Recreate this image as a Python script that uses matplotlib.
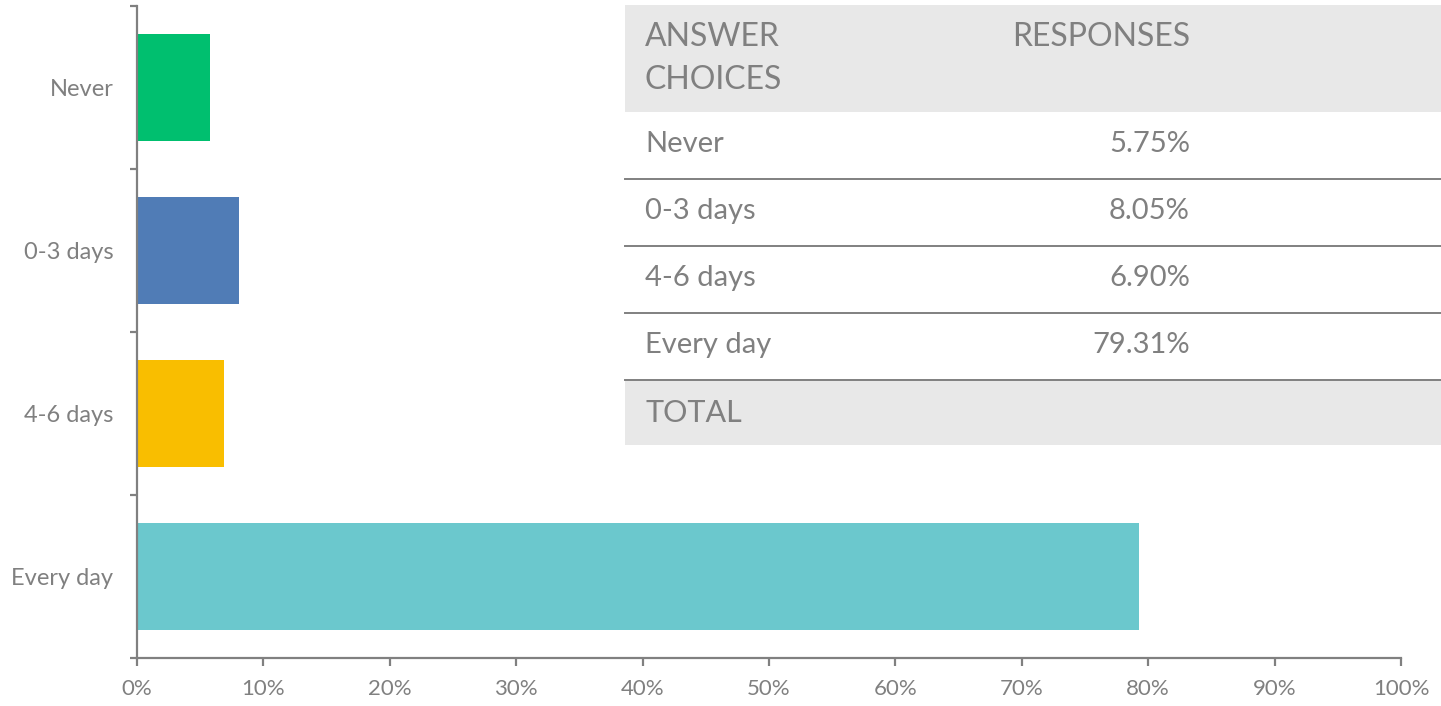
import matplotlib.pyplot as plt
from matplotlib.patches import Rectangle
from matplotlib.lines import Line2D
import numpy as np

# survey answers
categories = ["Never", "0-3 days", "4-6 days", "Every day"]
values = [5.75, 8.05, 6.90, 79.31]
bar_colors = ["#00BF6F", "#507CB6", "#F9BE00", "#6BC8CD"]
xticks = list(range(0, 101, 10))
xtick_labels = [f"{t}%" for t in xticks]

W, H = 1441, 706
grey = "#808080"
plt.rcParams['font.family'] = ['Lato', 'DejaVu Sans']

fig = plt.figure(figsize=(W / 100, H / 100), dpi=100)
ax = fig.add_axes([137 / W, 48 / H, (1401 - 137) / W, (658 - 6) / H])

ypos = np.arange(len(categories))
ax.barh(ypos, values, height=0.66, color=bar_colors)
ax.set_xlim(0, 100)
ax.set_ylim(len(categories) - 0.5, -0.5)

for s in ["top", "right"]:
    ax.spines[s].set_visible(False)
for s in ["left", "bottom"]:
    ax.spines[s].set_color(grey)
    ax.spines[s].set_linewidth(1.6)

ax.set_xticks(xticks)
ax.set_xticklabels(xtick_labels)
ax.tick_params(axis="x", colors=grey, labelsize=16, length=6, width=1.6, pad=9)

# boundary ticks on y, labels in the middle of each band
ax.set_yticks(np.arange(-0.5, len(categories), 1.0))
ax.set_yticklabels([])
ax.set_yticks(ypos, minor=True)
ax.set_yticklabels(categories, minor=True)
ax.tick_params(axis="y", which="major", colors=grey, length=5, width=1.6)
ax.tick_params(axis="y", which="minor", length=0, labelcolor=grey, labelsize=17, pad=17)


# summary table drawn on top, in pixel positions
def fx(x):
    return x / W


def fy(y):
    return 1 - y / H


def band(y0, y1, color):
    fig.patches.append(Rectangle((fx(625), fy(y1)), fx(W) - fx(625), fy(y0) - fy(y1),
                                 transform=fig.transFigure, facecolor=color, edgecolor="none", zorder=5))


band(5, 112, "#E8E8E8")
band(112, 380, "white")
band(380, 445, "#E8E8E8")

row_tops = [112, 179, 246, 313]
for y in row_tops[1:] + [380]:
    fig.lines.append(Line2D([fx(625), 1], [fy(y), fy(y)], transform=fig.transFigure,
                            color=grey, linewidth=1.4, zorder=6))

fig.text(fx(645), fy(37), "ANSWER", fontsize=23, color=grey, va="center", ha="left", zorder=7)
fig.text(fx(645), fy(80), "CHOICES", fontsize=23, color=grey, va="center", ha="left", zorder=7)
fig.text(fx(1190), fy(37), "RESPONSES", fontsize=23, color=grey, va="center", ha="right", zorder=7)

for top, cat, v in zip(row_tops, categories, values):
    fig.text(fx(645), fy(top + 32), cat, fontsize=21, color=grey, va="center", ha="left", zorder=7)
    fig.text(fx(1190), fy(top + 32), f"{v:.2f}%", fontsize=21, color=grey, va="center", ha="right", zorder=7)

fig.text(fx(645), fy(413), "TOTAL", fontsize=22, color=grey, va="center", ha="left", zorder=7)

fig.savefig("out.png", dpi=100)
